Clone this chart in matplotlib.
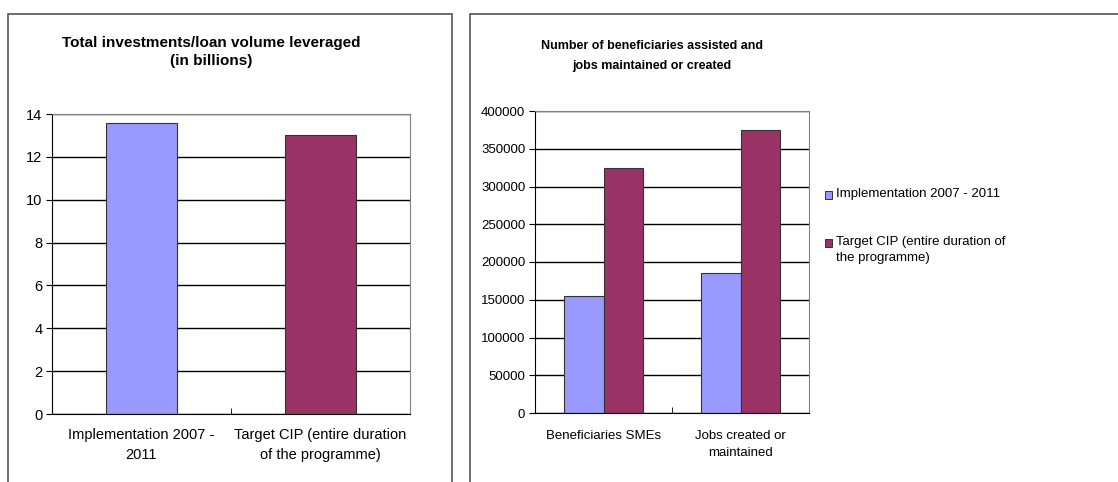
import matplotlib.pyplot as plt
from matplotlib.patches import Rectangle

plt.rcParams['font.family'] = ['Liberation Sans', 'DejaVu Sans']

# left chart: investments leveraged
inv_labels = ['Implementation 2007 -\n2011', 'Target CIP (entire duration\nof the programme)']
inv_values = [13.6, 13.0]

# right chart: beneficiaries / jobs
ben_labels = ['Beneficiaries SMEs', 'Jobs created or\nmaintained']
ben_impl = [155000, 185000]
ben_target = [325000, 375000]
series_names = ['Implementation 2007 - 2011', 'Target CIP (entire duration of\nthe programme)']

blue = '#9999FF'
maroon = '#993366'

W, H = 1118, 482
fig = plt.figure(figsize=(W / 100, H / 100), dpi=100)

# chart frames
fig.patches.append(Rectangle((8 / W, -0.05), 444 / W, 1 - 14 / H + 0.05,
                             transform=fig.transFigure, fill=False,
                             edgecolor='#555555', lw=1.2))
fig.patches.append(Rectangle((470 / W, -0.05), 0.6, 1 - 14 / H + 0.05,
                             transform=fig.transFigure, fill=False,
                             edgecolor='#555555', lw=1.2))


def style_axes(ax, ymax, step, fs, pad):
    ax.set_ylim(0, ymax)
    ax.set_xlim(-0.5, 1.5)
    ax.set_yticks(range(0, ymax + 1, step))
    ax.yaxis.grid(True, color='black', lw=1.0)
    ax.set_axisbelow(True)
    for s in ['top', 'right']:
        ax.spines[s].set_color('#808080')
    for s in ['left', 'bottom']:
        ax.spines[s].set_color('black')
    ax.set_xticks([0, 1])
    ax.set_xticks([-0.5, 0.5, 1.5], minor=True)
    ax.tick_params(axis='x', which='major', length=0, pad=pad, labelsize=fs)
    ax.tick_params(axis='x', which='minor', length=4, direction='in')
    ax.tick_params(axis='y', length=4, labelsize=fs, pad=3)


ax1 = fig.add_axes([52 / W, 68 / H, 358 / W, 300 / H])
ax1.bar([0, 1], inv_values, width=0.4, color=[blue, maroon],
        edgecolor='#333333', lw=0.8)
style_axes(ax1, 14, 2, 10.5, 10)
ax1.set_xticklabels(inv_labels, linespacing=1.55)
fig.text(211 / W, 1 - 52 / H, 'Total investments/loan volume leveraged\n(in billions)',
         ha='center', va='center', fontsize=11, fontweight='bold', linespacing=1.45)

ax2 = fig.add_axes([535 / W, 69 / H, 274 / W, 302 / H])
w = 0.285
x = [0, 1]
ax2.bar([i - w / 2 for i in x], ben_impl, width=w, color=blue,
        edgecolor='#333333', lw=0.8)
ax2.bar([i + w / 2 for i in x], ben_target, width=w, color=maroon,
        edgecolor='#333333', lw=0.8)
style_axes(ax2, 400000, 50000, 9.5, 12)
ax2.set_xticklabels(ben_labels, linespacing=1.6)
fig.text(652 / W, 1 - 56 / H, 'Number of beneficiaries assisted and\njobs maintained or created',
         ha='center', va='center', fontsize=9, fontweight='bold', linespacing=1.85)

# legend: square key aligned with the first line of each entry
for name, c, y in zip(series_names, (blue, maroon), (195, 243)):
    fig.patches.append(Rectangle((825 / W, 1 - (y + 4) / H), 7 / W, 8 / H,
                                 transform=fig.transFigure, facecolor=c,
                                 edgecolor='#333333', lw=0.7))
    fig.text(836 / W, 1 - (y - 7) / H, name, ha='left', va='top',
             fontsize=9.5, linespacing=1.5)

fig.savefig('out.png', dpi=100)
